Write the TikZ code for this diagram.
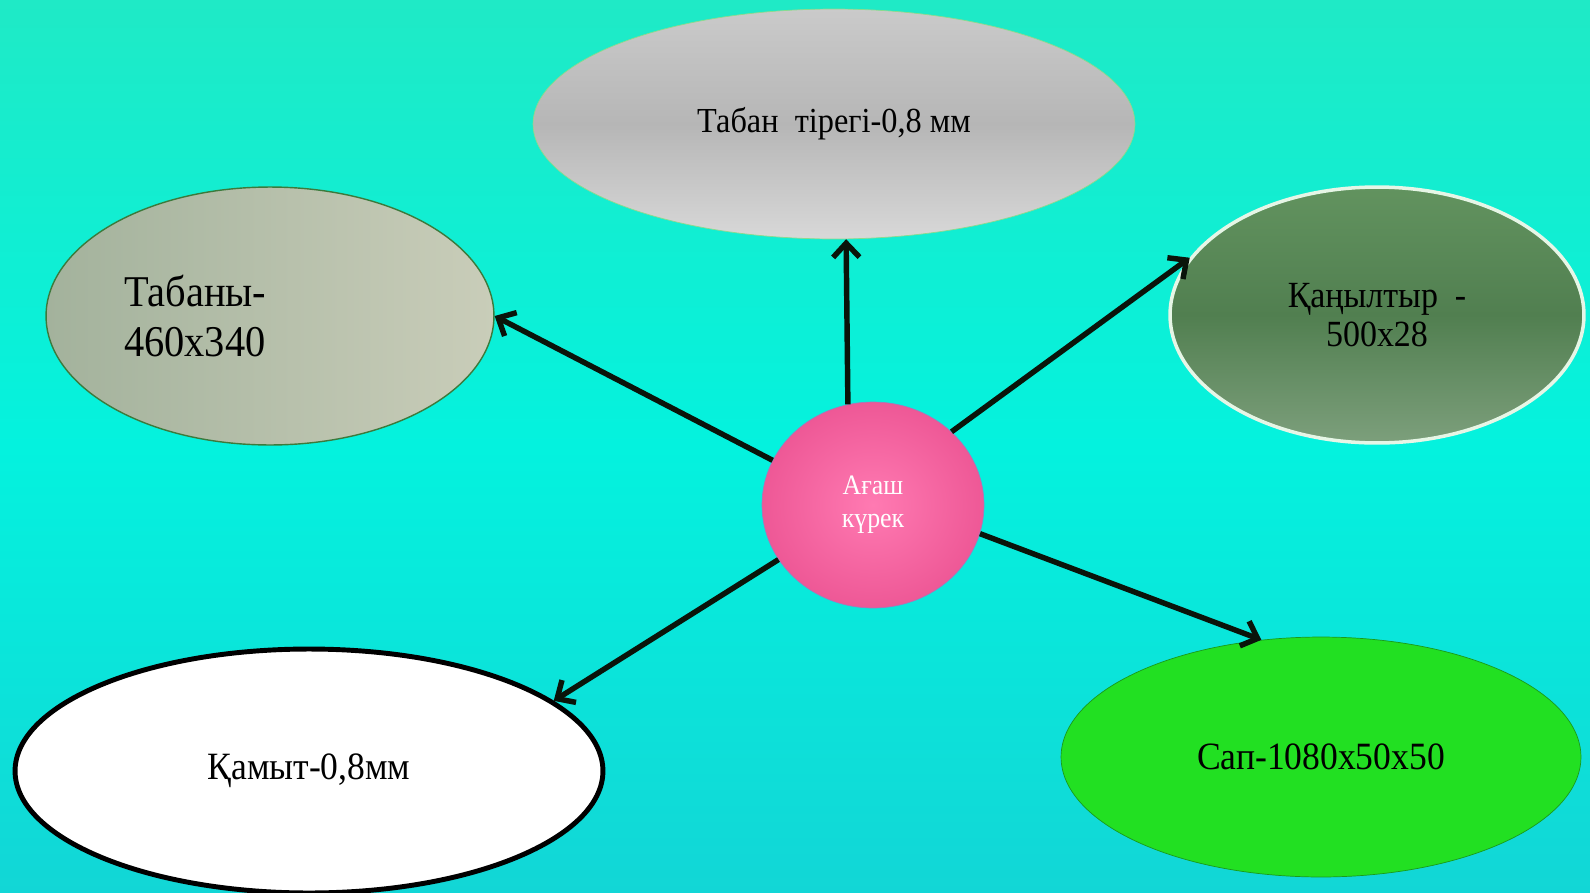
\documentclass[tikz,border=0pt]{standalone}
\usepackage{fontspec}
\setmainfont{Liberation Serif}[FakeStretch=0.92]
\usetikzlibrary{shapes,shapes.geometric,calc,positioning,arrows.meta}

\definecolor{bgtop}{HTML}{1FEAC6}
\definecolor{bgmid}{HTML}{04F2DE}
\definecolor{bgbot}{HTML}{12D6D6}
\definecolor{greyhi}{HTML}{CACACA}
\definecolor{greylo}{HTML}{B6B6B6}
\definecolor{greybot}{HTML}{D8D8D8}
\definecolor{sagel}{HTML}{A3B29C}
\definecolor{sager}{HTML}{C9CDB9}
\definecolor{sageline}{HTML}{3C7A3C}
\definecolor{leaftop}{HTML}{62935F}
\definecolor{leafbot}{HTML}{517F50}
\definecolor{leafrim}{HTML}{E6F6E6}
\definecolor{pinkin}{HTML}{FF7AB2}
\definecolor{pinkout}{HTML}{EE5896}
\definecolor{pinkline}{HTML}{A878B8}
\definecolor{limefill}{HTML}{22E022}
\definecolor{limeline}{HTML}{1A9A1A}
\definecolor{arrowblack}{HTML}{0A140A}

\begin{document}
\begin{tikzpicture}
	[x=0.02cm,y=-0.02cm,
	every node/.style={shape=ellipse,inner sep=1pt,align=center},
	topbox/.style={minimum width=12.04cm,minimum height=4.6cm,draw=greyhi!70!green,
		top color=greyhi,bottom color=greybot,middle color=greylo,
		font=\fontsize{20}{22}\selectfont},
	basebox/.style={minimum width=8.96cm,minimum height=5.16cm,draw=sageline,thick,
		left color=sagel,right color=sager,font=\fontsize{25}{29}\selectfont},
	sheetbox/.style={minimum width=8.28cm,minimum height=5.12cm,draw=leafrim,line width=2pt,
		top color=leaftop,bottom color=leafbot!75!white,middle color=leafbot,
		font=\fontsize{21}{22}\selectfont},
	hubbox/.style={minimum width=4.44cm,minimum height=4.12cm,draw=pinkline,
		inner color=pinkin,outer color=pinkout,text=white,
		font=\fontsize{16}{19}\selectfont},
	clampbox/.style={minimum width=11.76cm,minimum height=4.88cm,draw=black,
		line width=2.8pt,fill=white,font=\fontsize{22}{26}\selectfont},
	shaftbox/.style={minimum width=10.4cm,minimum height=4.8cm,draw=limeline,
		fill=limefill,font=\fontsize{22}{26}\selectfont},
	arr/.style={-{Straight Barb[length=8pt,width=15pt]},line width=3.1pt,draw=arrowblack}]
	\useasboundingbox (0,0) rectangle (1590,893);
	\shade[top color=bgtop,bottom color=bgbot,middle color=bgmid] (0,0) rectangle (1590,893);

	\node[topbox] (top) at (834,124) {Табан\ \ тірегі-0,8 мм};
	\node[basebox,text width=5.84cm,align=left] (tabany) at (270,316) {Табаны-\\460x340};
	\node[sheetbox] (kan) at (1377,315) {Қаңылтыр\ \ -\\500x28};
	\node[hubbox] (ctr) at (873,505) {Ағаш\\күрек};
	\node[clampbox] (qamyt) at (309,771) {Қамыт-0,8мм};
	\node[shaftbox] (sap) at (1321,757) {Сап-1080x50x50};

	\path
	\foreach \startNode/\endNode in {ctr.104/top.276,ctr.156/tabany.east,ctr.43/kan.163,ctr.210/qamyt.16,ctr.345/sap.117}
	{
		(\startNode) edge[arr] (\endNode)
	};
\end{tikzpicture}
\end{document}
